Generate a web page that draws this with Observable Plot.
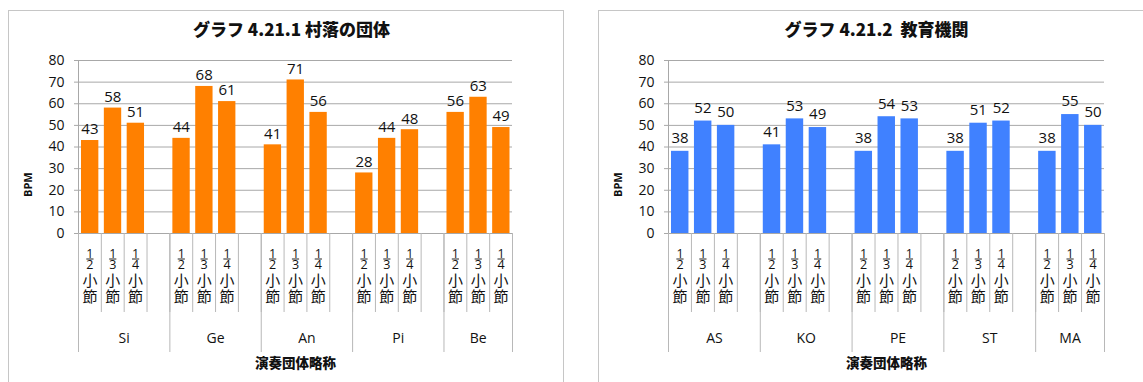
<!DOCTYPE html>
<html>
<head>
<meta charset="utf-8">
<script src="https://cdn.jsdelivr.net/npm/d3@7"></script>
<script src="https://cdn.jsdelivr.net/npm/@observablehq/plot@0.6"></script>
<style>
  body { margin: 0; background: #fff; width: 1143px; height: 382px; overflow: hidden; position: relative; }
  .box { position: absolute; top: 10px; height: 430px; border: 1px solid #c6c6c6; box-sizing: border-box; }
  .chart { position: absolute; top: 10px; }
</style>
</head>
<body>
<div class="box" style="left:8px;width:556px"></div>
<div class="box" style="left:598px;width:600px"></div>
<div id="village" class="chart" style="left:8px"></div>
<div id="school" class="chart" style="left:598px"></div>
<script>
// Sub-division labels shared by both charts
const subLabels = ["1/2小節", "1/3小節", "1/4小節"];
const yTicks = [0, 10, 20, 30, 40, 50, 60, 70, 80];

// グラフ 4.21.1 村落の団体
const villageTitle = "グラフ 4.21.1 村落の団体";
const villageGroups = ["Si", "Ge", "An", "Pi", "Be"];
const villageHalf = [43, 44, 41, 28, 56];
const villageThird = [58, 68, 71, 44, 63];
const villageQuarter = [51, 61, 56, 48, 49];

// グラフ 4.21.2 教育機関
const schoolTitle = "グラフ 4.21.2  教育機関";
const schoolGroups = ["AS", "KO", "PE", "ST", "MA"];
const schoolHalf = [38, 41, 38, 38, 38];
const schoolThird = [52, 53, 54, 51, 55];
const schoolQuarter = [50, 49, 53, 52, 50];

const yLabel = "BPM";
const xLabel = "演奏団体略称";

// horizontal stroke used as the fraction bar between numerator and denominator
const fractionBar = {
  draw(context, size) {
    const r = Math.sqrt(size / Math.PI);
    context.moveTo(-r, 0);
    context.lineTo(r, 0);
  }
};

function groupedBars({title, groups, series, color, width, plotWidth, titleDx, valueDy}) {
  const marginLeft = 70, marginTop = 50, marginBottom = 149, height = 372;
  const marginRight = width - marginLeft - plotWidth;

  // one slot per sub-division, plus an empty slot between groups
  const keys = [];
  const rows = [];
  groups.forEach((g, gi) => {
    subLabels.forEach((s, si) => {
      const key = g + "|" + si;
      keys.push(key);
      const [num, rest] = s.split("/");
      rows.push({key, group: g, num, den: rest[0], unit: rest.slice(1), value: series[si][gi]});
    });
    if (gi < groups.length - 1) keys.push(g + "|gap");
  });
  const bw = plotWidth / keys.length;
  const groupStarts = groups.map(g => g + "|0");
  const inner = groups.slice(0, -1);
  const last = groups.slice(-1);
  const grid = "#a8a8a8", sep = "#b8b8b8";
  const cjk = "'Noto Sans CJK JP', sans-serif";

  return Plot.plot({
    width, height, marginLeft, marginRight, marginTop, marginBottom,
    style: {fontFamily: "'Open Sans', sans-serif", fontSize: "14px", color: "#111", background: "transparent", overflow: "visible"},
    x: {domain: keys, padding: 0, round: false, label: null},
    y: {domain: [0, 80], label: null},
    marks: [
      Plot.gridY(yTicks, {stroke: grid, strokeOpacity: 1}),
      Plot.axisY(yTicks, {tickSize: 4, tickPadding: 10, stroke: grid, fontSize: 14, label: null}),
      Plot.ruleX([keys[0]], {dx: -bw / 2, stroke: grid}),
      Plot.barY(rows, {x: d => d.key, y: d => d.value, fill: color, insetLeft: 3, insetRight: 2.5}),
      Plot.text(rows, {x: d => d.key, y: d => d.value, text: d => String(d.value), dy: valueDy, fontSize: 15}),
      // category separators below the axis
      Plot.axisX(keys, {tickSize: 79, tickFormat: () => "", dx: -bw / 2, stroke: sep, label: null}),
      Plot.axisX(groupStarts, {tickSize: 119, tickFormat: () => "", dx: -bw / 2, stroke: sep, label: null}),
      Plot.axisX([keys[keys.length - 1]], {tickSize: 119, tickFormat: () => "", dx: bw / 2, stroke: sep, label: null}),
      // stacked sub-division labels: numerator, bar, denominator, then 小節
      Plot.text(rows, {x: d => d.key, text: d => d.num, frameAnchor: "bottom", lineAnchor: "middle", dy: 20, fontSize: 12.5}),
      Plot.dot(rows, {x: d => d.key, frameAnchor: "bottom", dy: 25.5, symbol: fractionBar, r: 3.6, stroke: "#222", strokeWidth: 1, fill: "none"}),
      Plot.text(rows, {x: d => d.key, text: d => d.den, frameAnchor: "bottom", lineAnchor: "middle", dy: 31.5, fontSize: 12.5}),
      Plot.text(rows, {x: d => d.key, text: d => d.unit.split("").join("\n"), frameAnchor: "bottom", lineAnchor: "middle", dy: 55, fontSize: 15, lineHeight: 1.07, fontFamily: cjk}),
      // group names
      Plot.text(inner, {x: g => g + "|1", text: g => g, frameAnchor: "bottom", lineAnchor: "middle", dy: 105, dx: bw / 2, fontSize: 14}),
      Plot.text(last, {x: g => g + "|1", text: g => g, frameAnchor: "bottom", lineAnchor: "middle", dy: 105, fontSize: 14}),
      // titles
      Plot.text([title], {frameAnchor: "top", lineAnchor: "middle", dy: -30, dx: titleDx, fontSize: 17, fontWeight: 900, fontFamily: cjk}),
      Plot.text([yLabel], {frameAnchor: "left", lineAnchor: "middle", rotate: -90, dx: -50, dy: 50, fontSize: 11, fontWeight: "bold"}),
      Plot.text([xLabel], {frameAnchor: "bottom", lineAnchor: "middle", dy: 130, fontSize: 13.5, fontWeight: 900, fontFamily: cjk})
    ]
  });
}

document.getElementById("village").append(groupedBars({
  title: villageTitle, groups: villageGroups,
  series: [villageHalf, villageThird, villageQuarter],
  color: "#ff8000", width: 555, plotWidth: 434, titleDx: -4, valueDy: -11
}));
document.getElementById("school").append(groupedBars({
  title: schoolTitle, groups: schoolGroups,
  series: [schoolHalf, schoolThird, schoolQuarter],
  color: "#4081ff", width: 545, plotWidth: 436, titleDx: -10, valueDy: -13
}));
</script>
</body>
</html>
